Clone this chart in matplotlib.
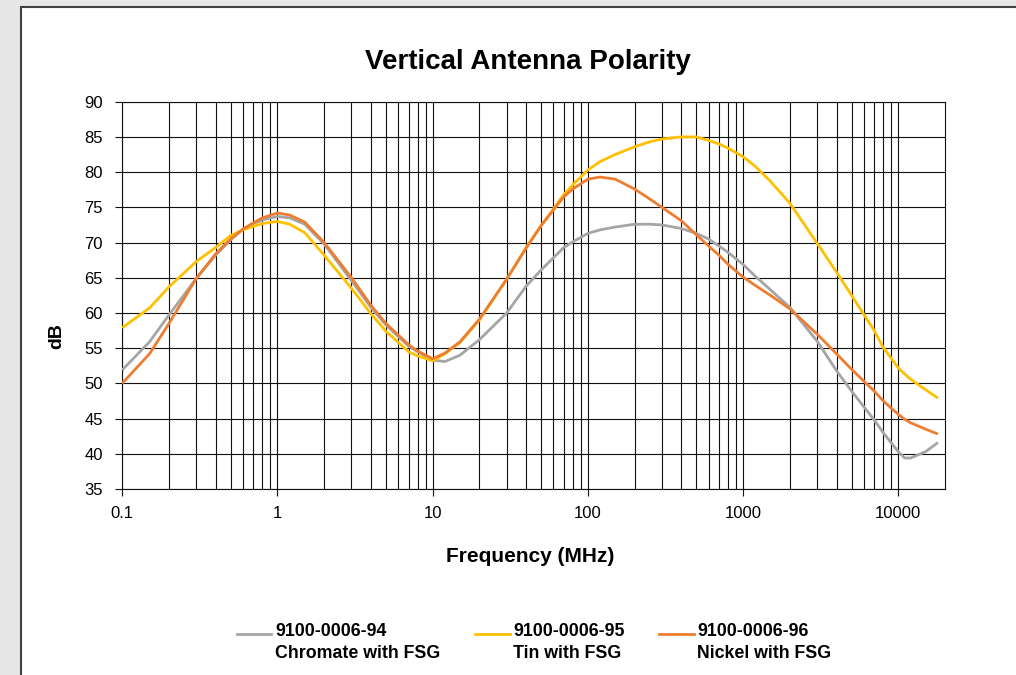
import matplotlib
matplotlib.use("Agg")
import matplotlib.pyplot as plt
from matplotlib.lines import Line2D
from matplotlib.patches import Rectangle
from matplotlib.ticker import FixedLocator, NullFormatter, FixedFormatter

plt.rcParams['font.family'] = ['Liberation Sans', 'DejaVu Sans']

freq = [0.1, 0.15, 0.2, 0.3, 0.4, 0.5, 0.6, 0.7, 0.8, 1, 1.2, 1.5, 2, 3, 4, 5, 7, 8,
        10, 12, 15, 20, 30, 40, 50, 70, 80, 100, 120, 150, 200, 250, 300, 400, 500,
        600, 700, 800, 1000, 1200, 1500, 2000, 3000, 4000, 5000, 7000, 8000, 10000,
        11000, 12000, 15000, 18000]

chromate = [51.9, 55.9, 59.7, 64.9, 68.2, 70.4, 71.9, 72.7, 73.2, 73.7, 73.5, 72.6, 69.8,
            64.6, 60.8, 58.3, 55.3, 54.5, 53.3, 53.1, 54.0, 56.2, 60.0, 63.8, 66.1, 69.3,
            70.1, 71.3, 71.8, 72.2, 72.6, 72.6, 72.5, 72.0, 71.3, 70.5, 69.5, 68.6, 66.9,
            65.2, 63.3, 60.8, 56.0, 51.8, 48.9, 44.8, 43.0, 40.3, 39.4, 39.4, 40.3, 41.6]

tin = [57.9, 60.7, 63.7, 67.3, 69.3, 71.0, 71.8, 72.3, 72.7, 73.0, 72.6, 71.4, 68.2,
       63.5, 59.9, 57.4, 54.5, 53.9, 53.2, 54.2, 55.8, 59.0, 64.8, 69.3, 72.4, 76.8,
       78.2, 80.3, 81.5, 82.5, 83.6, 84.3, 84.7, 85.0, 85.0, 84.5, 84.0, 83.4, 82.2,
       80.8, 78.7, 75.6, 69.9, 65.8, 62.5, 57.5, 55.1, 52.2, 51.3, 50.6, 49.1, 47.9]

nickel = [50.0, 54.2, 58.5, 64.9, 68.4, 70.5, 71.9, 72.8, 73.5, 74.2, 73.9, 72.9, 70.0,
          65.0, 61.1, 58.5, 55.5, 54.6, 53.5, 54.3, 55.9, 59.1, 64.8, 69.2, 72.4, 76.5,
          77.6, 79.0, 79.3, 79.0, 77.6, 76.2, 75.0, 73.1, 71.1, 69.5, 68.2, 66.9, 65.1,
          63.9, 62.5, 60.6, 57.0, 54.2, 52.0, 48.9, 47.5, 45.6, 44.9, 44.4, 43.5, 42.8]

series_codes = ["9100-0006-94", "9100-0006-95", "9100-0006-96"]
series_names = ["Chromate with FSG", "Tin with FSG", "Nickel with FSG"]
colors = ["#a5a5a5", "#ffc000", "#ed7d31"]

y_ticks = [35, 40, 45, 50, 55, 60, 65, 70, 75, 80, 85, 90]
x_major = [0.1, 1, 10, 100, 1000, 10000]
x_labels = ["0.1", "1", "10", "100", "1000", "10000"]

W, H = 1016, 675
fig = plt.figure(figsize=(W / 100, H / 100), dpi=100)
fig.patch.set_facecolor("#e6e6e6")
panel = Rectangle((20.5 / W, -0.05), 1.2, (H - 6.5) / H + 0.05, transform=fig.transFigure,
                  facecolor="white", edgecolor="#404040", linewidth=1.5, zorder=0)
fig.add_artist(panel)

ax = fig.add_axes([122.2 / W, (H - 489) / H, (945 - 122.2) / W, (489 - 101.7) / H])
ax.set_facecolor("white")

for vals, c in zip([chromate, tin, nickel], colors):
    ax.plot(freq, vals, color=c, lw=2.0, solid_joinstyle="round",
            solid_capstyle="butt", zorder=3)

ax.set_xscale("log")
ax.set_xlim(0.1, 20000)
ax.set_ylim(35, 90)

minor = [m * 10.0 ** e for e in range(-1, 5) for m in range(2, 10)]
minor = [v for v in minor if v < 20000]
ax.xaxis.set_major_locator(FixedLocator(x_major))
ax.xaxis.set_major_formatter(FixedFormatter(x_labels))
ax.xaxis.set_minor_locator(FixedLocator(minor))
ax.xaxis.set_minor_formatter(NullFormatter())
ax.set_yticks(y_ticks)

ax.grid(True, which="both", axis="x", color="#111111", lw=0.8, zorder=1)
ax.grid(True, which="major", axis="y", color="#111111", lw=0.8, zorder=1)
ax.set_axisbelow(True)

for s in ax.spines.values():
    s.set_color("#111111")
    s.set_linewidth(0.8)

ax.tick_params(axis="both", which="major", direction="out", length=5, width=0.8,
               color="#111111", labelsize=12, labelcolor="black")
ax.tick_params(axis="x", which="major", pad=7)
ax.tick_params(axis="y", which="major", pad=9)
ax.tick_params(axis="x", which="minor", length=0)

fig.text(528 / W, 1 - 62 / H, "Vertical Antenna Polarity", ha="center", va="center",
         fontsize=20, fontweight="bold")
fig.text(530 / W, 1 - 557 / H, "Frequency (MHz)", ha="center", va="center",
         fontsize=15, fontweight="bold")
fig.text(57 / W, 1 - 336 / H, "dB", ha="center", va="center", rotation=90,
         fontsize=14, fontweight="bold")

handle_x = [(237, 271), (475, 510), (659, 694)]
text_x = [275, 513, 697]
for (x0, x1), tx, code, name, c in zip(handle_x, text_x, series_codes, series_names, colors):
    fig.add_artist(Line2D([x0 / W, x1 / W], [1 - 633.5 / H, 1 - 633.5 / H],
                          transform=fig.transFigure, color=c, lw=2.0))
    fig.text(tx / W, 1 - 632 / H, code, ha="left", va="center", fontsize=12.8,
             fontweight="bold")
    fig.text(tx / W, 1 - 654 / H, name, ha="left", va="center", fontsize=12.8,
             fontweight="bold")

fig.savefig("out.png", dpi=100, facecolor=fig.get_facecolor())
